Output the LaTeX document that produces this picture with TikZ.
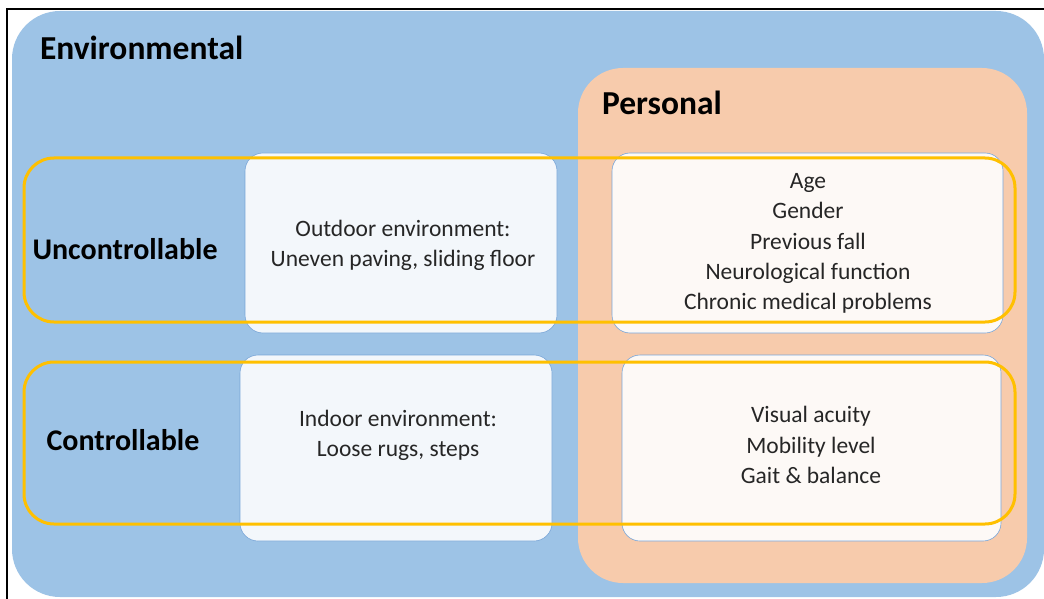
\documentclass[tikz,border=0pt]{standalone}
\usepackage{fontspec}
\setmainfont{Carlito}
\definecolor{envblue}{RGB}{157,195,230}
\definecolor{perspeach}{RGB}{247,203,172}
\definecolor{ringgold}{RGB}{255,192,0}
\definecolor{cardblue}{RGB}{243,247,251}
\definecolor{cardpeach}{RGB}{253,249,246}
\definecolor{cardline}{RGB}{120,165,215}

\begin{document}
\begin{tikzpicture}[x=1pt,y=-1pt,
  card/.style={rounded corners=18pt,draw=cardline,line width=.6pt},
  ring/.style={draw=ringgold,line width=3pt,rounded corners=30pt},
  head/.style={anchor=west,font=\bfseries\fontsize{33.5}{38}\selectfont},
  rowlabel/.style={anchor=west,font=\bfseries\fontsize{30}{35}\selectfont},
  item/.style={align=center,text=black!85,font=\fontsize{23.5}{30.2}\selectfont}]
  \useasboundingbox (0,0) rectangle (1044,599);
  \fill[white] (0,0) rectangle (1044,599);
  \draw[line width=2pt] (7,599)--(7,9)--(1044,9);
  % the two big groups
  \fill[envblue,rounded corners=48pt] (12,11) rectangle (1044,597);
  \fill[perspeach,rounded corners=45pt] (578,68) rectangle (1027,583);
  % factor cards
  \foreach\xa/\ya/\xb/\yb/\c in {245/153/557/333/cardblue,612/153/1003/333/cardpeach,
                                  240/355/552/541/cardblue,622/355/1001/541/cardpeach}
     \draw[card,fill=\c](\xa,\ya)rectangle(\xb,\yb);
  % uncontrollable / controllable rings
  \foreach\ya/\yb in {158/322,362/524}
     \draw[ring](24,\ya)rectangle(1015,\yb);
  \node[head] (env) at (36.5,48) {Environmental};
  \node[head] (pers) at (598.5,103) {Personal};
  \node[rowlabel] (unctrl) at (29,249) {Uncontrollable};
  \node[rowlabel] (ctrl) at (43,440) {Controllable};
  \node[item] (outdoor) at (403,245) {Outdoor environment:\\Uneven paving, sliding floor};
  \node[item] (indoor) at (398,435) {Indoor environment:\\Loose rugs, steps};
  \node[item] (fixed) at (808,243.5) {Age\\Gender\\Previous fall\\Neurological function\\Chronic medical problems};
  \node[item] (modif) at (811,445) {Visual acuity\\Mobility level\\Gait \& balance};
\end{tikzpicture}
\end{document}
